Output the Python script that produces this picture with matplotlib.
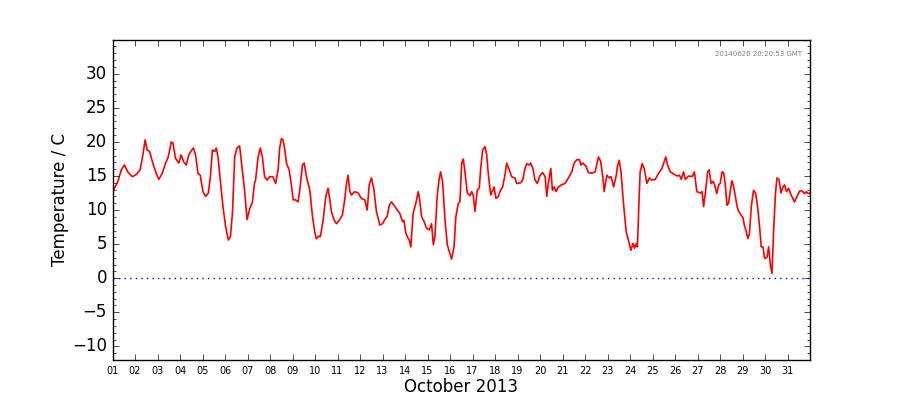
import datetime as dt
import numpy as np
import matplotlib
matplotlib.use("Agg")
import matplotlib.pyplot as plt
import matplotlib.dates as mdates
from matplotlib.ticker import MultipleLocator


# days since 2013-10-01 00:00 and temperature (C)
days = [
    0.04, 0.24, 0.39, 0.53, 0.68, 0.88, 1.05, 1.23, 1.35, 1.45, 1.54, 1.65,
    1.79, 1.94, 2.06, 2.21, 2.36, 2.46, 2.51, 2.61, 2.69, 2.80, 2.95, 3.05,
    3.16, 3.28, 3.39, 3.50, 3.60, 3.69, 3.80, 3.90, 4.02, 4.14, 4.26, 4.35,
    4.44, 4.54, 4.61, 4.69, 4.79, 4.91, 5.03, 5.15, 5.24, 5.33, 5.43, 5.53,
    5.65, 5.77, 5.87, 5.98, 6.10, 6.22, 6.31,
    6.36, 6.47, 6.57, 6.66, 6.76, 6.87, 6.99, 7.13, 7.25, 7.36, 7.43, 7.51,
    7.58, 7.66, 7.73, 7.85, 7.95, 8.03, 8.13, 8.25, 8.35, 8.44, 8.52, 8.62,
    8.77, 8.89, 8.99, 9.06, 9.18, 9.24, 9.36, 9.48, 9.58, 9.66, 9.73, 9.84,
    9.95, 10.10, 10.22, 10.32, 10.40, 10.47, 10.55, 10.62, 10.77, 10.92,
    11.06, 11.21, 11.32, 11.41, 11.51, 11.61, 11.73, 11.88, 12.00, 12.10,
    12.21, 12.30, 12.40,
    12.62, 12.77, 12.89, 12.95, 13.04, 13.10, 13.19, 13.26, 13.36, 13.48,
    13.59, 13.63, 13.74, 13.85, 13.96, 14.08, 14.18, 14.26, 14.33, 14.43,
    14.51, 14.58, 14.67, 14.78, 14.88, 15.00, 15.07, 15.18, 15.26, 15.37,
    15.44, 15.52, 15.59, 15.67, 15.77, 15.89, 15.96, 16.03, 16.11, 16.21,
    16.30, 16.36, 16.45, 16.56, 16.63, 16.70, 16.81, 16.90, 16.96, 17.04,
    17.15, 17.22, 17.34, 17.44, 17.52, 17.63, 17.74, 17.89, 17.96, 18.14,
    18.23, 18.33, 18.41, 18.53, 18.59, 18.68,
    18.78, 18.88, 19.00, 19.12, 19.23, 19.30, 19.37, 19.48, 19.55, 19.63,
    19.71, 19.82, 19.96, 20.11, 20.26, 20.41, 20.52, 20.64, 20.75, 20.82,
    20.90, 21.05, 21.15, 21.30, 21.45, 21.52, 21.60, 21.70, 21.79, 21.85,
    21.97, 22.09, 22.16, 22.27, 22.39, 22.44, 22.52, 22.60, 22.71, 22.83,
    22.93, 23.04, 23.13, 23.20, 23.28, 23.33, 23.39, 23.45, 23.54, 23.63,
    23.75, 23.86, 23.97, 24.12, 24.27, 24.42, 24.52, 24.59, 24.67, 24.79,
    24.94, 25.09, 25.20, 25.28, 25.38, 25.46, 25.61, 25.76, 25.86, 25.97,
    26.12, 26.20, 26.27, 26.35, 26.45, 26.52, 26.60, 26.69, 26.76, 26.86,
    26.94, 27.01, 27.09, 27.16, 27.23, 27.31, 27.38, 27.46, 27.53, 27.61,
    27.68, 27.76, 27.83, 27.93, 28.02, 28.08, 28.17, 28.24, 28.31, 28.39,
    28.49, 28.58, 28.67, 28.76, 28.83, 28.91, 28.98, 29.09, 29.16, 29.24,
    29.31, 29.39, 29.46, 29.53, 29.62, 29.71, 29.80, 29.87, 29.95, 30.05,
    30.16, 30.31, 30.42, 30.54, 30.65, 30.75, 30.84, 30.92, 30.99,
]

temps = [
    12.9, 14.2, 15.9, 16.6, 15.6, 14.9, 15.2, 15.9, 18.1, 20.3, 18.8, 18.6,
    16.9, 15.4, 14.5, 15.4, 16.9, 17.6, 18.3, 20.0, 19.8, 17.6, 16.9, 18.1,
    17.1, 16.6, 18.1, 18.7, 19.1, 18.1, 15.4, 15.1, 12.7, 12.0, 12.5, 14.9,
    18.8, 18.6, 19.1, 17.8, 14.4, 10.5, 7.5, 5.6, 6.1, 9.5, 17.8, 19.1,
    19.4, 15.9, 12.9, 8.6, 10.2, 11.2, 13.9,
    14.4, 17.8, 19.1, 17.8, 14.9, 14.4, 14.9, 14.9, 13.9, 15.9, 19.1, 20.5,
    20.3, 18.8, 16.9, 15.9, 13.7, 11.5, 11.5, 11.2, 13.7, 16.6, 16.9, 14.9,
    12.9, 9.0, 6.8, 5.8, 6.2, 6.1, 8.5, 12.0, 13.2, 11.5, 9.8, 8.6,
    8.0, 8.6, 9.3, 11.5, 13.9, 15.1, 12.7, 12.2, 12.7, 12.5,
    11.7, 11.5, 10.0, 13.7, 14.7, 13.2, 9.8, 7.8, 8.0, 8.6,
    9.1, 10.7, 11.2,
    10.2, 9.5, 8.3, 8.5, 6.6, 6.1, 5.6, 4.6, 9.5, 11.0,
    12.7, 12.0, 9.0, 8.3, 7.3, 7.1, 8.0, 4.9, 6.1, 12.0,
    14.4, 15.6, 14.2, 8.5, 4.9, 3.6, 2.8, 4.6, 9.0, 11.0,
    11.2, 16.9, 17.5, 15.4, 12.5, 12.1, 12.7, 12.2, 9.8, 12.9,
    13.2, 15.9, 18.8, 19.3, 18.1, 15.4, 12.2, 12.9, 13.4, 11.7,
    12.0, 12.7, 13.4, 15.1, 16.9, 15.9, 14.9, 14.7, 13.9, 14.0,
    14.4, 16.1, 16.8, 16.6, 16.9, 16.1,
    14.4, 13.9, 15.1, 15.5, 14.9, 12.0, 13.9, 16.1, 12.9, 13.4,
    12.7, 13.4, 13.7, 13.9, 14.7, 15.6, 16.9, 17.4, 17.4, 16.6,
    16.9, 16.4, 15.5, 15.4, 15.6, 16.6, 17.8, 17.1, 14.9, 12.7,
    15.1, 14.7, 14.9, 13.4, 15.1, 16.4, 17.3, 15.6, 11.0, 6.8,
    5.6, 4.1, 5.1, 4.4, 5.1, 4.6, 10.5, 15.6, 16.8, 16.1,
    13.9, 14.7, 14.4, 14.5, 15.4, 16.1, 17.1, 17.8, 16.6, 15.6,
    15.3, 15.0, 15.1, 14.5, 15.6, 14.5, 15.0, 14.9, 15.6, 12.7,
    12.5, 12.7, 10.5, 12.5, 15.6, 15.9, 13.9, 14.2, 13.7, 12.4,
    13.7, 13.9, 15.6, 15.5, 13.9, 10.7, 11.0, 12.9, 14.3, 13.4,
    12.0, 10.5, 9.8, 9.3, 8.9, 7.8, 6.8, 5.8, 6.6, 10.5,
    12.9, 12.5, 10.5, 7.5, 4.6, 4.6, 2.9, 3.1, 4.6, 1.9,
    0.7, 7.5, 12.2, 14.7, 14.5, 12.5, 13.4, 13.7, 12.7, 13.2,
    12.2, 11.2, 12.0, 12.8, 12.8, 12.4, 12.7, 12.4, 12.5,
]

stamp = "20140626 20:20:53 GMT"

start = dt.datetime(2013, 10, 1)
# stop just short of 1 Nov so no extra "01" tick shows up
end = dt.datetime(2013, 10, 31, 23, 59)
times = [start + dt.timedelta(days=d) for d in days]


plt.style.use("classic")

fig = plt.figure(figsize=(9, 4), dpi=100, facecolor="white")
ax = fig.add_subplot(111)
fig.subplots_adjust(left=0.125, right=0.9, bottom=0.1, top=0.9)

ax.plot(times, temps, color="red", lw=1.2)
ax.axhline(0, color="blue", ls=":", lw=1)

ax.set_xlim(start, end)
ax.set_ylim(-12, 34.95)

ax.xaxis.set_major_locator(mdates.DayLocator())
ax.xaxis.set_major_formatter(mdates.DateFormatter("%d"))
ax.yaxis.set_major_locator(MultipleLocator(5))
ax.yaxis.set_minor_locator(MultipleLocator(1))

ax.tick_params(axis="x", labelsize=7)
ax.tick_params(axis="y", labelsize=12)

ax.set_xlabel("October 2013", fontsize=12, labelpad=2)
ax.set_ylabel("Temperature / C", fontsize=12, labelpad=2)

ax.text(0.989, 0.955, stamp, transform=ax.transAxes,
        ha="right", va="center", fontsize=5, color="gray")

fig.savefig("out.png", dpi=100, facecolor="white")
